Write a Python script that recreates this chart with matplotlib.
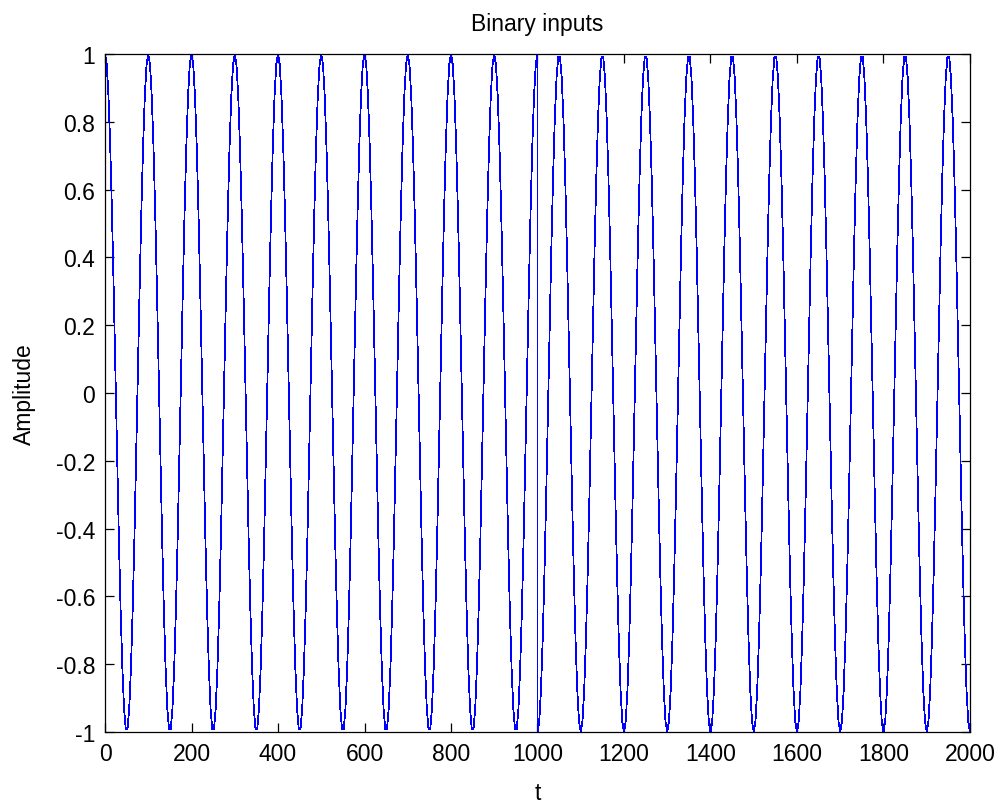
import matplotlib
matplotlib.use('Agg')
import matplotlib.pyplot as plt
import numpy as np

# binary input bits mapped to +1 / -1 and carrier settings
bits = [1, -1]
bit_duration = 1000
carrier_period = 100
sample_step = 4

x_ticks = [0, 200, 400, 600, 800, 1000, 1200, 1400, 1600, 1800, 2000]
y_ticks = [-1, -0.8, -0.6, -0.4, -0.2, 0, 0.2, 0.4, 0.6, 0.8, 1]
y_tick_labels = ['-1', '-0.8', '-0.6', '-0.4', '-0.2', '0', '0.2', '0.4', '0.6', '0.8', '1']

plt.rcParams['font.family'] = ['Liberation Sans', 'DejaVu Sans']
plt.rcParams['axes.unicode_minus'] = False

# build the modulated waveform, one block per bit
t_parts, s_parts = [], []
for k, b in enumerate(bits):
    t_k = k * bit_duration + np.arange(0, bit_duration + 1, sample_step)
    t_parts.append(t_k)
    s_parts.append(b * np.cos(2 * np.pi * t_k / carrier_period))
t = np.concatenate(t_parts)
s = np.concatenate(s_parts)

fig = plt.figure(figsize=(10.04, 8.04), dpi=100)
ax = fig.add_axes([0.1046, 0.0883, 0.8615, 0.8433])

# MATLAB-style aliased 1px line
ax.plot(t, s, color='#0000FF', linewidth=0.55, antialiased=False)

ax.set_xlim(0, 2000)
ax.set_ylim(-1, 1)
ax.set_xticks(x_ticks)
ax.set_xticklabels([str(v) for v in x_ticks])
ax.set_yticks(y_ticks)
ax.set_yticklabels(y_tick_labels)
ax.tick_params(direction='in', length=6.5, width=0.9, top=True, right=True,
               labelsize=16.5, pad=7, colors='black')
for sp in ax.spines.values():
    sp.set_linewidth(0.9)
    sp.set_color('black')

ax.set_title('Binary inputs', fontsize=16.5, pad=17)
ax.set_xlabel('t', fontsize=16.5, labelpad=12)
ax.set_ylabel('Amplitude', fontsize=16.5, labelpad=14)

fig.savefig('out.png', dpi=100, facecolor='#FFFFFF')
plt.close(fig)
